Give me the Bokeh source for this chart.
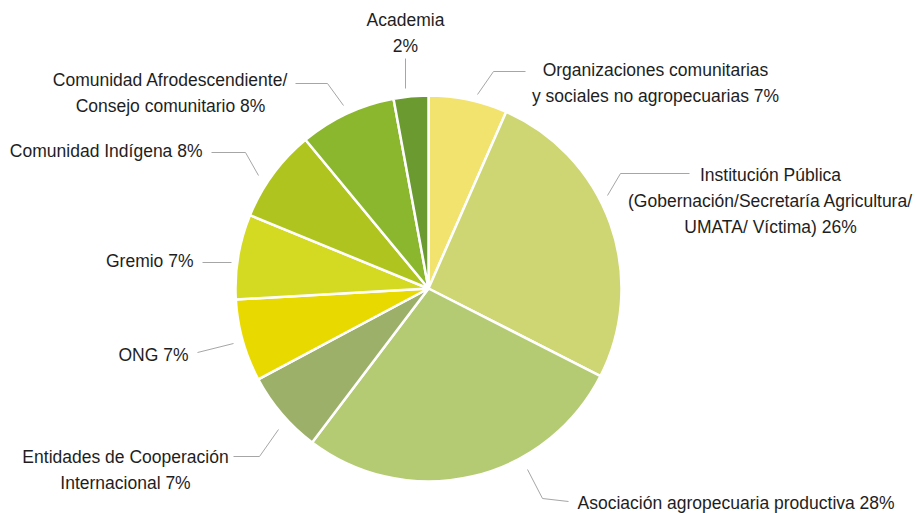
import math
from bokeh.plotting import figure
from bokeh.models import ColumnDataSource, Range1d
from bokeh.core.properties import value
from bokeh.embed import file_html
from bokeh.resources import INLINE

# ---- data (clockwise from 12 o'clock) ----
categories = [
    "Organizaciones comunitarias y sociales no agropecuarias",
    "Institución Pública",
    "Asociación agropecuaria productiva",
    "Entidades de Cooperación Internacional",
    "ONG",
    "Gremio",
    "Comunidad Indígena",
    "Comunidad Afrodescendiente/ Consejo comunitario",
    "Academia",
]
shares = [6.6, 25.9, 27.8, 6.9, 6.9, 7.1, 7.8, 8.1, 2.9]
labels = [
    "Organizaciones comunitarias\ny sociales no agropecuarias 7%",
    "Institución Pública\n(Gobernación/Secretaría Agricultura/\nUMATA/ Víctima) 26%",
    "Asociación agropecuaria productiva 28%",
    "Entidades de Cooperación\nInternacional 7%",
    "ONG 7%",
    "Gremio 7%",
    "Comunidad Indígena 8%",
    "Comunidad Afrodescendiente/\nConsejo comunitario 8%",
    "Academia\n2%",
]
colors = ["#f2e36f", "#cdd672", "#b4cb74", "#9db069", "#e8da00",
          "#d4d922", "#b0c420", "#8bb72e", "#6a9a30"]

# ---- layout (screen pixel coordinates) ----
W, H = 916, 513
def Y(sy):
    return H - sy

CX, CY, R = 428, Y(288), 193

label_x = [655, 770, 577, 125, 188, 193, 202, 170, 405]
label_y = [82.5, 200.5, 502, 469.5, 354, 260, 150, 92.5, 32.5]
label_align = ["center", "center", "left", "center", "right", "right",
               "right", "center", "center"]

leaders = [
    [(525, 71), (493, 71), (477, 94)],
    [(689, 173), (620, 173), (607, 195)],
    [(568, 501), (542, 498), (527, 469)],
    [(233, 456), (259, 456), (278, 429)],
    [(197, 352), (233, 343)],
    [(202, 262), (231, 262)],
    [(211, 152), (245, 152), (258, 175)],
    [(295, 83), (327, 83), (343, 105)],
    [(405, 58), (405, 88)],
]

total = sum(shares)
starts, ends = [], []
cum = 0.0
for s in shares:
    starts.append(math.pi / 2 - 2 * math.pi * cum / total)
    cum += s
    ends.append(math.pi / 2 - 2 * math.pi * cum / total)

p = figure(width=W, height=H, output_backend="svg", toolbar_location=None,
           x_range=Range1d(0, W), y_range=Range1d(0, H),
           min_border=0, match_aspect=False)
p.axis.visible = False
p.grid.visible = False
p.outline_line_color = None
p.background_fill_color = "white"
p.border_fill_color = "white"

src = ColumnDataSource(dict(cat=categories, start=starts, end=ends, color=colors))
p.wedge(x=CX, y=CY, radius=R, start_angle="start", end_angle="end",
        direction="clock", fill_color="color", line_color="white",
        line_width=2.5, source=src)

p.multi_line(xs=[[pt[0] for pt in l] for l in leaders],
             ys=[[Y(pt[1]) for pt in l] for l in leaders],
             line_color="#a6a6a6", line_width=1)

for t, x, y, a in zip(labels, label_x, label_y, label_align):
    p.text(x=[x], y=[Y(y)], text=[t], text_align=a, text_baseline="middle",
           text_font=value("Liberation Sans"),
           text_font_size="17.5px", text_color="#1e1e1e", text_line_height=1.28)

open("out.html", "w").write(file_html(p, INLINE))
